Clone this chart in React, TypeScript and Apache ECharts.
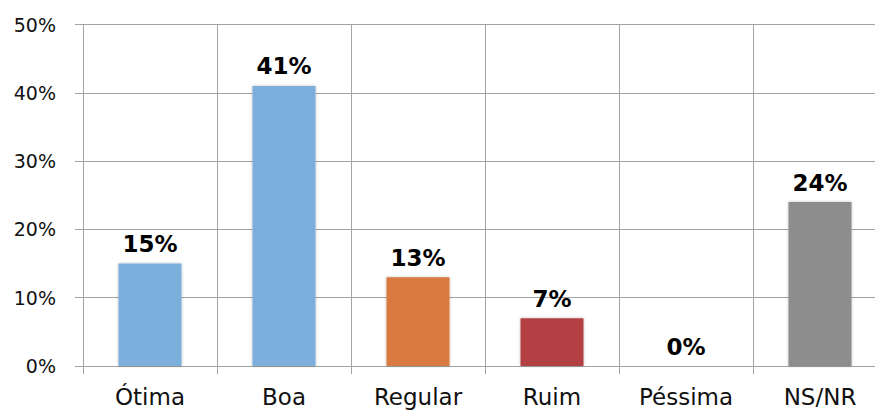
import React, { useEffect, useRef } from "react";
import * as echarts from "echarts";

const categories = ["Ótima", "Boa", "Regular", "Ruim", "Péssima", "NS/NR"];
const values = [15, 41, 13, 7, 0, 24];
const barColors = ["#7BAFDB", "#7BAFDB", "#D97A3F", "#B24142", "#7BAFDB", "#8D8D8D"];
const yTicks = [0, 10, 20, 30, 40, 50];

const GRID = "#A3A3A3";
const FONT = "DejaVu Sans";

export default function App() {
  const ref = useRef<HTMLDivElement>(null);
  useEffect(() => {
    if (!ref.current) return;
    const chart = echarts.init(ref.current, undefined, { renderer: "svg" });
    chart.setOption({
      animation: false,
      backgroundColor: "#ffffff",
      grid: { left: 83, top: 24.5, right: 0, bottom: 48, containLabel: false },
      xAxis: {
        type: "category",
        data: categories,
        boundaryGap: true,
        axisLine: { show: true, lineStyle: { color: GRID, width: 1 } },
        axisTick: { show: true, length: 8, lineStyle: { color: GRID } },
        splitLine: { show: true, lineStyle: { color: GRID, width: 1 } },
        axisLabel: { color: "#111", fontFamily: FONT, fontSize: 23, margin: 19 },
      },
      yAxis: {
        type: "value",
        min: yTicks[0],
        max: yTicks[yTicks.length - 1],
        interval: 10,
        axisLine: { show: true, lineStyle: { color: GRID, width: 1 } },
        axisTick: { show: true, length: 8, lineStyle: { color: GRID } },
        splitLine: { show: true, lineStyle: { color: GRID, width: 1 } },
        axisLabel: { color: "#111", fontFamily: FONT, fontSize: 19, margin: 27, formatter: "{value}%" },
      },
      series: [
        {
          type: "bar",
          barWidth: 63,
          data: values.map((v, i) => ({
            value: v,
            itemStyle: {
              color: barColors[i],
              shadowBlur: 3,
              shadowColor: "rgba(0,0,0,0.25)",
            },
          })),
          label: {
            show: true,
            position: "top",
            distance: 8,
            formatter: "{c}%",
            color: "#000",
            fontFamily: FONT,
            fontWeight: "bold",
            fontSize: 23,
          },
        },
      ],
    });
    return () => chart.dispose();
  }, []);
  return (
    <div
      style={{ position: "absolute", left: 0, top: 0, width: 875, height: 414, overflow: "hidden" }}
    >
      <div ref={ref} style={{ width: 887, height: 414 }} />
    </div>
  );
}
